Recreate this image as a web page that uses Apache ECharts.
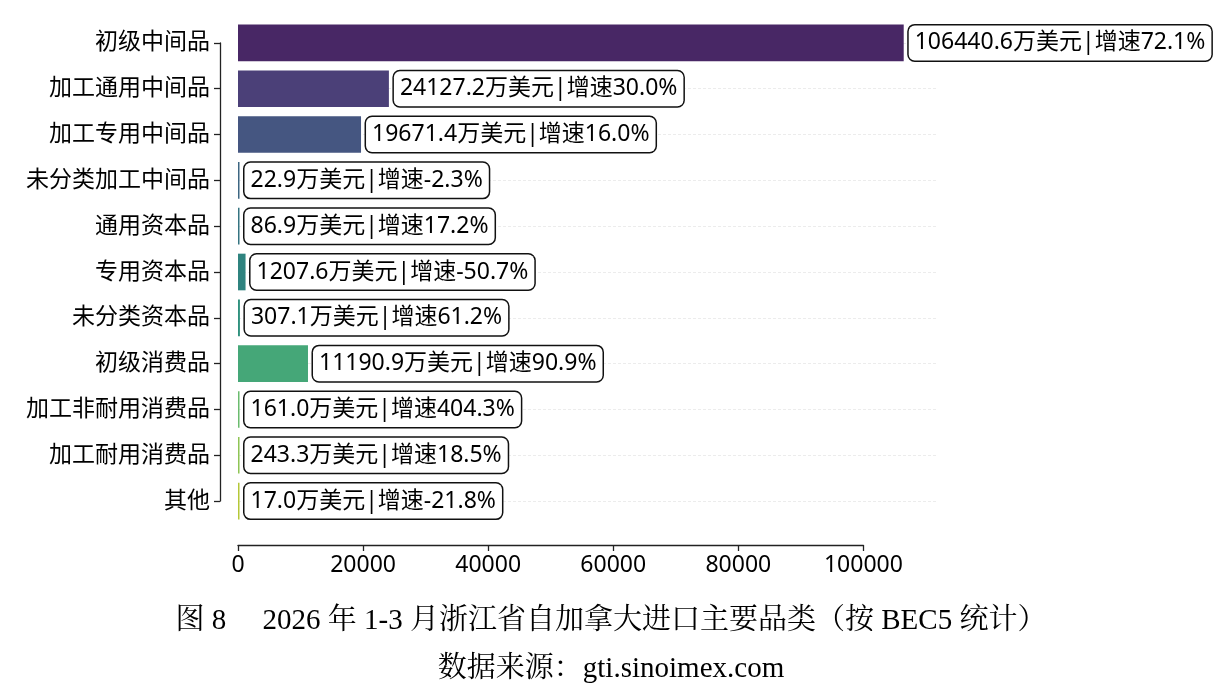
<!DOCTYPE html>
<html>
<head>
<meta charset="utf-8">
<script src="https://cdn.jsdelivr.net/npm/echarts@6/dist/echarts.min.js"></script>
<style>
html,body{margin:0;padding:0;background:#fff;}
#main{width:1222px;height:699px;}
</style>
</head>
<body>
<div id="main"></div>
<script>
// ---- data ----
const categories = ['初级中间品','加工通用中间品','加工专用中间品','未分类加工中间品','通用资本品','专用资本品','未分类资本品','初级消费品','加工非耐用消费品','加工耐用消费品','其他'];
const values = [106440.6, 24127.2, 19671.4, 22.9, 86.9, 1207.6, 307.1, 11190.9, 161.0, 243.3, 17.0];
const growth = [72.1, 30.0, 16.0, -2.3, 17.2, -50.7, 61.2, 90.9, 404.3, 18.5, -21.8];
const xTicks = [0, 20000, 40000, 60000, 80000, 100000];
const titleLine1 = '图 8\u3000 2026 年 1-3 月浙江省自加拿大进口主要品类（按 BEC5 统计）';
const titleLine2 = '数据来源：gti.sinoimex.com';

// ---- viridis palette desaturated (seaborn style) ----
const viridisStops = ['#481d6f','#453781','#3b528b','#31688e','#287d8e','#21918c','#1fa188','#35b779','#5ec962','#90d743','#c7e020'];
function desat(hex, f){
  let r=parseInt(hex.slice(1,3),16)/255,g=parseInt(hex.slice(3,5),16)/255,b=parseInt(hex.slice(5,7),16)/255;
  const mx=Math.max(r,g,b),mn=Math.min(r,g,b);const l=(mx+mn)/2;let s=0,h=0;
  if(mx!==mn){const d=mx-mn;s=l>0.5?d/(2-mx-mn):d/(mx+mn);
    if(mx===r)h=((g-b)/d+(g<b?6:0));else if(mx===g)h=(b-r)/d+2;else h=(r-g)/d+4;h/=6;}
  s*=f;
  function hue2rgb(p,q,t){if(t<0)t+=1;if(t>1)t-=1;if(t<1/6)return p+(q-p)*6*t;if(t<1/2)return q;if(t<2/3)return p+(q-p)*(2/3-t)*6;return p;}
  const q=l<0.5?l*(1+s):l+s-l*s,p=2*l-q;
  const R=hue2rgb(p,q,h+1/3),G=hue2rgb(p,q,h),B=hue2rgb(p,q,h-1/3);
  const hx=v=>Math.round(v*255).toString(16).padStart(2,'0');
  return '#'+hx(R)+hx(G)+hx(B);
}
const colors = viridisStops.map(c=>desat(c,0.75));

const xMax = Math.max(...values)*1.05;
const gridLeft = 238, gridRight = 285, gridTop = 20, gridBottom = 175;
const plotW = 1222 - gridLeft - gridRight;
const trimW = plotW * xTicks[xTicks.length-1] / xMax;
const bandH = (699 - gridTop - gridBottom) / categories.length;

const fontCJK = "'Noto Sans','Noto Sans CJK SC',sans-serif";
const fontSerif = "'Liberation Serif','Noto Serif CJK SC','Noto Sans CJK SC',serif";

const chart = echarts.init(document.getElementById('main'), null, {renderer:'canvas'});
chart.setOption({
  animation:false,
  backgroundColor:'#ffffff',
  title:[
    {text:titleLine1,left:'center',top:602,textStyle:{fontFamily:fontSerif,fontSize:29,fontWeight:'normal',color:'#000'}},
    {text:titleLine2,left:'center',top:650,textStyle:{fontFamily:fontSerif,fontSize:29,fontWeight:'normal',color:'#000'}}
  ],
  grid:[
    {left:gridLeft,right:gridRight,top:gridTop,bottom:gridBottom},
    {left:gridLeft,right:gridRight,top:gridTop+bandH/2,bottom:gridBottom+bandH/2},
    {left:gridLeft,width:trimW,top:gridTop,bottom:gridBottom}
  ],
  xAxis:[
    {gridIndex:0,type:'value',min:0,max:xMax,show:false},
    {gridIndex:1,type:'value',min:0,max:1,show:false},
    {gridIndex:2,type:'value',min:0,max:xTicks[xTicks.length-1],interval:xTicks[1]-xTicks[0],position:'bottom',offset:21,
      axisLine:{show:true,onZero:false,lineStyle:{color:'#222',width:1.3}},
      axisTick:{show:true,length:6,lineStyle:{color:'#222',width:1.3}},
      axisLabel:{show:true,margin:9,color:'#000',fontSize:23,fontFamily:fontCJK,
        formatter:v=>xTicks.includes(v)?String(v):''},
      splitLine:{show:false}}
  ],
  yAxis:[
    {gridIndex:0,type:'category',data:categories,inverse:true,
      axisLine:{show:false},axisTick:{show:false},
      axisLabel:{margin:28,color:'#000',fontSize:23,fontFamily:fontCJK},
      splitLine:{show:false}},
    {gridIndex:1,type:'value',min:0,max:categories.length-1,interval:1,inverse:true,position:'left',offset:18,
      axisLine:{show:true,onZero:false,lineStyle:{color:'#222',width:1.3}},
      axisTick:{show:true,length:6,lineStyle:{color:'#222',width:1.3}},
      axisLabel:{show:false},
      splitLine:{show:true,lineStyle:{color:'#ececec',width:1,type:[3,2]}}},
    {gridIndex:2,type:'value',min:0,max:1,show:false}
  ],
  series:[{
    type:'bar',xAxisIndex:0,yAxisIndex:0,
    barWidth:'80%',barMinHeight:1.5,
    data:values.map((v,i)=>({value:v,itemStyle:{color:colors[i]}})),
    label:{show:true,position:'right',distance:5,
      formatter:p=>values[p.dataIndex].toFixed(1)+'万美元|增速'+growth[p.dataIndex].toFixed(1)+'%',
      color:'#000',fontSize:23,fontFamily:fontCJK,
      backgroundColor:'#fff',borderColor:'#111',borderWidth:1.5,borderRadius:6,
      padding:[7,6,5,6]},
    z:3
  }]
});
</script>
</body>
</html>
